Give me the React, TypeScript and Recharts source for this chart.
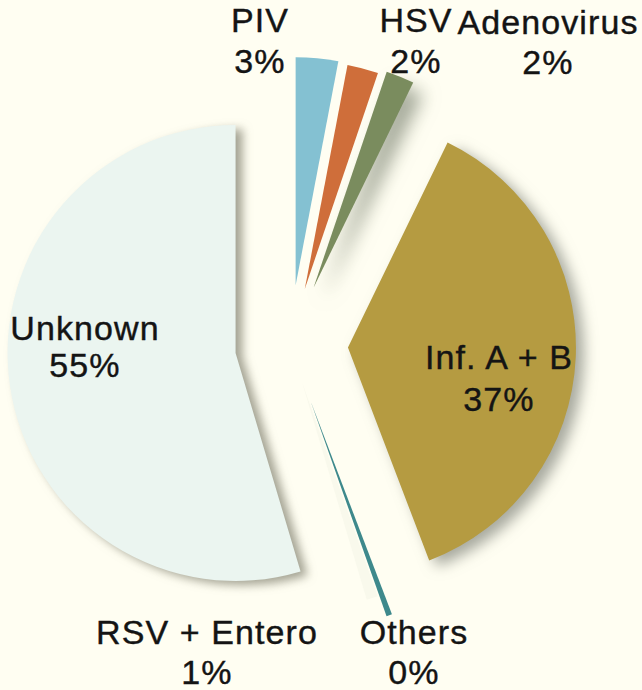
import React from 'react';
import { PieChart, Pie, Cell } from 'recharts';

// ---- data ----
const categories = ['PIV', 'HSV', 'Adenovirus', 'Inf. A + B', 'Others', 'RSV + Entero', 'Unknown'];
const values = [3.0, 2.2, 2.0, 37.0, 0.4, 0.8, 54.6];
const percentLabels = ['3%', '2%', '2%', '37%', '0%', '1%', '55%'];

// ---- styling / layout ----
const colors = ['#84c1d2', '#cf6e3a', '#7a8c5e', '#b59b41', '#3e898c', '#f9f9ec', '#ebf5f0'];
const shadows = [
  'none',
  'none',
  'drop-shadow(10px 12px 9px rgba(90,100,80,0.55))',
  'drop-shadow(8px 6px 7px rgba(80,85,75,0.5))',
  'none',
  'none',
  'drop-shadow(7px 4px 5px rgba(90,90,70,0.55))',
];
const explode = [60, 58, 62, 58, 60, 38, 55];
// centre of the first label line, and the gap to the second line
const labelLayout: [number, number, number][] = [
  [260, 20, 41],
  [416, 20, 41],
  [548, 22, 40],
  [499, 357, 42],
  [414, 632, 40],
  [207, 632, 40],
  [85, 328, 37],
];

const W = 642;
const H = 690;
const CX = 290;
const CY = 345;
const R = 228;
const FONT = '"Liberation Sans", Arial, sans-serif';
const FONT_SIZE = 34;

const data = categories.map((name, i) => ({ name, value: values[i] }));
const total = values.reduce((a, b) => a + b, 0);

const midAngles = values.map((v, i) => {
  const before = values.slice(0, i).reduce((a, b) => a + b, 0);
  return ((before + v / 2) / total) * 2 * Math.PI; // clockwise from 12 o'clock
});

const textProps = {
  textAnchor: 'middle' as const,
  dominantBaseline: 'central' as const,
  fontFamily: FONT,
  fontSize: FONT_SIZE,
  fill: '#141414',
  stroke: '#141414',
  strokeWidth: 0.4,
  letterSpacing: 1.1,
};

export default function App() {
  return (
    <div style={{ position: 'absolute', left: 0, top: 0, width: W, height: H, background: '#fffef2' }}>
      <PieChart width={W} height={H} margin={{ top: 0, right: 0, bottom: 0, left: 0 }}>
        {categories.map((name, i) => {
          const a = midAngles[i];
          const cx = CX + explode[i] * Math.sin(a);
          const cy = CY - explode[i] * Math.cos(a);
          return (
            <Pie
              key={name}
              data={data}
              dataKey="value"
              nameKey="name"
              cx={cx}
              cy={cy}
              innerRadius={0}
              outerRadius={R}
              startAngle={90}
              endAngle={-270}
              stroke="none"
              isAnimationActive={false}
              labelLine={false}
              label={(p: any) => {
                if (p.index !== i) return null;
                const [lx, ly, gap] = labelLayout[i];
                return (
                  <g>
                    <text x={lx} y={ly} {...textProps}>
                      {categories[i]}
                    </text>
                    <text x={lx} y={ly + gap} {...textProps}>
                      {percentLabels[i]}
                    </text>
                  </g>
                );
              }}
            >
              {data.map((d, j) => (
                <Cell
                  key={d.name}
                  fill={j === i ? colors[i] : 'transparent'}
                  style={j === i ? { filter: shadows[i] } : undefined}
                />
              ))}
            </Pie>
          );
        })}
      </PieChart>
    </div>
  );
}
